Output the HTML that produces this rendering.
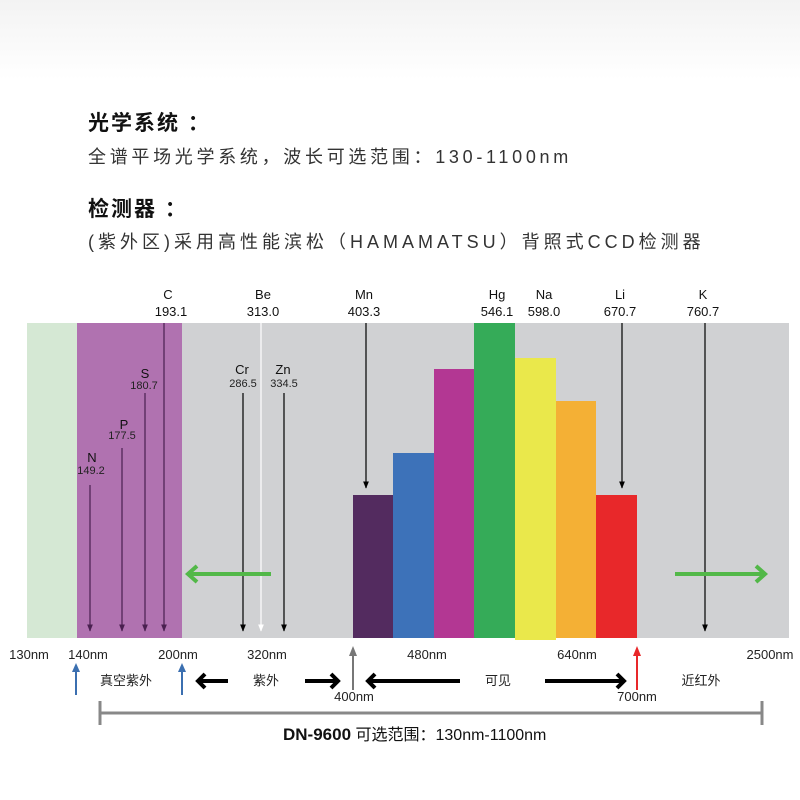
<!DOCTYPE html>
<html><head><meta charset="utf-8"><style>
html,body{margin:0;padding:0;background:#fff;}
svg{display:block}
text{font-family:"Liberation Sans","Noto Sans CJK SC",sans-serif;}
</style></head><body>
<svg width="800" height="800" viewBox="0 0 800 800" xmlns="http://www.w3.org/2000/svg">
<defs>
<linearGradient id="bg" x1="0" y1="0" x2="0" y2="1"><stop offset="0" stop-color="#f3f3f3"/><stop offset="0.1" stop-color="#ffffff"/></linearGradient>
<marker id="ab" viewBox="0 0 10 10" refX="9" refY="5" markerWidth="6" markerHeight="6" orient="auto"><path d="M0,1 L10,5 L0,9 z" fill="#000"/></marker>
<marker id="ap" viewBox="0 0 10 10" refX="9" refY="5" markerWidth="6" markerHeight="6" orient="auto"><path d="M0,1 L10,5 L0,9 z" fill="#4a2050"/></marker>
<marker id="aw" viewBox="0 0 10 10" refX="9" refY="5" markerWidth="6" markerHeight="6" orient="auto"><path d="M0,1 L10,5 L0,9 z" fill="#fff"/></marker>
</defs>
<rect width="800" height="800" fill="url(#bg)"/>
<text x="88" y="130" font-size="21" font-weight="bold" fill="#111" letter-spacing="2">光学系统 ：</text>
<text x="88" y="163" font-size="18" fill="#333" letter-spacing="3.7">全谱平场光学系统，波长可选范围：130-1100nm</text>
<text x="88" y="216" font-size="21" font-weight="bold" fill="#111" letter-spacing="2">检测器 ：</text>
<text x="88" y="248" font-size="18" fill="#333" letter-spacing="4">(紫外区)采用高性能滨松（HAMAMATSU）背照式CCD检测器</text>

<rect x="27" y="323" width="50" height="315" fill="#d5e8d4"/>
<rect x="77" y="323" width="105" height="315" fill="#b072b0"/>
<rect x="182" y="323" width="607" height="315" fill="#d0d1d3"/>
<rect x="353" y="495" width="40" height="143" fill="#532b5f"/>
<rect x="393" y="453" width="41" height="185" fill="#3d72b9"/>
<rect x="434" y="369" width="40" height="269" fill="#b33793"/>
<rect x="474" y="323" width="41" height="315" fill="#35ab58"/>
<rect x="515" y="358" width="41" height="282" fill="#eae84b"/>
<rect x="556" y="401" width="40" height="237" fill="#f4b035"/>
<rect x="596" y="495" width="41" height="143" fill="#e8282a"/>

<g font-size="13" fill="#111" text-anchor="middle">
<text x="168" y="299">C</text><text x="171" y="316">193.1</text>
<text x="263" y="299">Be</text><text x="263" y="316">313.0</text>
<text x="364" y="299">Mn</text><text x="364" y="316">403.3</text>
<text x="497" y="299">Hg</text><text x="497" y="316">546.1</text>
<text x="544" y="299">Na</text><text x="544" y="316">598.0</text>
<text x="620" y="299">Li</text><text x="620" y="316">670.7</text>
<text x="703" y="299">K</text><text x="703" y="316">760.7</text>
<text x="242" y="374">Cr</text><text x="283" y="374">Zn</text>
<text x="145" y="378">S</text><text x="124" y="429">P</text><text x="92" y="462">N</text>
</g>
<g font-size="11" fill="#222" text-anchor="middle">
<text x="243" y="387">286.5</text><text x="284" y="387">334.5</text>
<text x="144" y="389">180.7</text><text x="122" y="439">177.5</text><text x="91" y="474">149.2</text>
</g>
<g stroke-width="1.2">
<line x1="164" y1="323" x2="164" y2="631" stroke="#4a2050" marker-end="url(#ap)"/>
<line x1="145" y1="393" x2="145" y2="631" stroke="#4a2050" marker-end="url(#ap)"/>
<line x1="122" y1="448" x2="122" y2="631" stroke="#4a2050" marker-end="url(#ap)"/>
<line x1="90" y1="485" x2="90" y2="631" stroke="#4a2050" marker-end="url(#ap)"/>
<line x1="243" y1="393" x2="243" y2="631" stroke="#000" marker-end="url(#ab)"/>
<line x1="261" y1="323" x2="261" y2="631" stroke="#fff" marker-end="url(#aw)"/>
<line x1="284" y1="393" x2="284" y2="631" stroke="#000" marker-end="url(#ab)"/>
<line x1="366" y1="323" x2="366" y2="488" stroke="#000" marker-end="url(#ab)"/>
<line x1="622" y1="323" x2="622" y2="488" stroke="#000" marker-end="url(#ab)"/>
<line x1="705" y1="323" x2="705" y2="631" stroke="#000" marker-end="url(#ab)"/>
</g>
<g stroke="#52b848" stroke-width="4" fill="none">
<line x1="271" y1="574" x2="188" y2="574"/><polyline points="197,566 188,574 197,582"/>
<line x1="675" y1="574" x2="765" y2="574"/><polyline points="756,566 765,574 756,582"/>
</g>

<g font-size="13" fill="#222" text-anchor="middle">
<text x="29" y="659">130nm</text><text x="88" y="659">140nm</text><text x="178" y="659">200nm</text>
<text x="267" y="659">320nm</text><text x="427" y="659">480nm</text><text x="577" y="659">640nm</text>
<text x="770" y="659">2500nm</text>
<text x="354" y="701">400nm</text><text x="637" y="701">700nm</text>
<text x="126" y="685">真空紫外</text><text x="266" y="685">紫外</text><text x="498" y="685">可见</text><text x="701" y="685">近红外</text>
</g>
<g stroke-width="2">
<line x1="76" y1="695" x2="76" y2="670" stroke="#3b6fb0"/><path d="M72,672 L76,663 L80,672z" fill="#3b6fb0"/>
<line x1="182" y1="695" x2="182" y2="670" stroke="#3b6fb0"/><path d="M178,672 L182,663 L186,672z" fill="#3b6fb0"/>
<line x1="353" y1="690" x2="353" y2="655" stroke="#777"/><path d="M349,656 L353,646 L357,656z" fill="#777"/>
<line x1="637" y1="690" x2="637" y2="655" stroke="#e8282a"/><path d="M633,656 L637,646 L641,656z" fill="#e8282a"/>
</g>
<g stroke="#000" stroke-width="4" fill="none">
<line x1="228" y1="681" x2="198" y2="681"/><polyline points="205,674 198,681 205,688"/>
<line x1="305" y1="681" x2="338" y2="681"/><polyline points="331,674 338,681 331,688"/>
<line x1="460" y1="681" x2="368" y2="681"/><polyline points="375,674 368,681 375,688"/>
<line x1="545" y1="681" x2="624" y2="681"/><polyline points="617,674 624,681 617,688"/>
</g>
<g stroke="#888" stroke-width="3">
<line x1="100" y1="713" x2="762" y2="713"/><line x1="100" y1="701" x2="100" y2="725"/><line x1="762" y1="701" x2="762" y2="725"/>
</g>
<text x="283" y="740" font-size="17" fill="#111"><tspan font-weight="bold">DN-9600</tspan><tspan font-size="16"> 可选范围：130nm-1100nm</tspan></text>
</svg>
</body></html>
